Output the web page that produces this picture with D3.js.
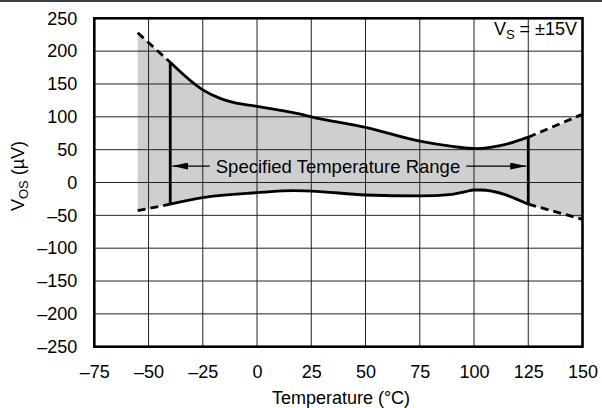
<!DOCTYPE html>
<meta charset="utf-8">
<style>
    body { margin: 0; background: #fff; }
    text { font-family: "Liberation Sans", Arial, sans-serif; fill: #000; }
    .grid line { stroke: #222; stroke-width: 1; }
</style>
<svg width="602" height="408"></svg>
<script src="https://d3js.org/d3.v7.min.js"></script>
<script>

    // upper and lower limit curves (temperature in C, offset in uV)
    var upperTemp = [-55, -40, -25, -17, -11, 0, 20, 25, 50, 75, 90, 101, 112, 125, 150];
    var upperVos  = [228, 183, 141, 128, 122, 116, 104, 100, 84, 63, 55, 51.5, 56, 69, 104];
    var lowerTemp = [-55, -40, -25, 0, 17, 25, 50, 75, 90, 96, 100, 103, 125, 150];
    var lowerVos  = [-43, -33, -23, -15.5, -12.4, -13, -19, -20.5, -18, -14, -11.4, -11.4, -33, -56];

    var specMin = -40, specMax = 125;
    var xTicks = [-75, -50, -25, 0, 25, 50, 75, 100, 125, 150];
    var yTicks = [250, 200, 150, 100, 50, 0, -50, -100, -150, -200, -250];

    (function () {
    var svg = d3.select("svg");
    var pLeft = 94.3, pRight = 582.5, pTop = 18.3, pBottom = 346.7;

    var x = d3.scaleLinear().domain([-75, 150]).range([pLeft, pRight]);
    var y = d3.scaleLinear().domain([-250, 250]).range([pBottom, pTop]);

    var fmt = function (d) { return d < 0 ? "\u2013" + Math.abs(d) : d; };

    var upper = upperTemp.map(function (t, i) { return [t, upperVos[i]]; });
    var lower = lowerTemp.map(function (t, i) { return [t, lowerVos[i]]; });

    var line = d3.line()
        .x(function (d) { return x(d[0]); })
        .y(function (d) { return y(d[1]); })
        .curve(d3.curveMonotoneX);

    // top border of the page
    svg.append("line").attr("x1", 0).attr("x2", 602).attr("y1", 1).attr("y2", 1)
        .attr("stroke", "#000").attr("stroke-width", 1.5);

    // shaded band: upper curve then lower curve back
    var upPath = line(upper), loPath = line(lower.slice().reverse());
    svg.append("path")
        .attr("d", upPath + "L" + loPath.slice(1) + "Z")
        .attr("fill", "#cfcfcf");

    // grid
    var grid = svg.append("g").attr("class", "grid");
    grid.selectAll(".vx").data(xTicks).enter().append("line")
        .attr("x1", function (d) { return x(d); }).attr("x2", function (d) { return x(d); })
        .attr("y1", pTop).attr("y2", pBottom);
    grid.selectAll(".hy").data(yTicks).enter().append("line")
        .attr("y1", function (d) { return y(d); }).attr("y2", function (d) { return y(d); })
        .attr("x1", pLeft).attr("x2", pRight);

    // curves: solid inside spec range, dashed outside
    function part(pts, a, b) {
        return pts.filter(function (d) { return d[0] >= a && d[0] <= b; });
    }
    [upper, lower].forEach(function (pts) {
        svg.append("path").attr("d", line(part(pts, -55, specMin)))
            .attr("fill", "none").attr("stroke", "#000").attr("stroke-width", 2.8)
            .attr("stroke-dasharray", "8,5");
        svg.append("path").attr("d", line(part(pts, specMax, 150)))
            .attr("fill", "none").attr("stroke", "#000").attr("stroke-width", 2.8)
            .attr("stroke-dasharray", "8,5");
        svg.append("path").attr("d", line(part(pts, specMin, specMax)))
            .attr("fill", "none").attr("stroke", "#000").attr("stroke-width", 2.8);
    });

    // vertical limits of the specified range
    [specMin, specMax].forEach(function (t) {
        var u = upper.find(function (d) { return d[0] === t; })[1];
        var l = lower.find(function (d) { return d[0] === t; })[1];
        svg.append("line").attr("x1", x(t)).attr("x2", x(t)).attr("y1", y(u)).attr("y2", y(l))
            .attr("stroke", "#000").attr("stroke-width", 2.8);
    });

    // arrow with label
    var defs = svg.append("defs");
    defs.append("marker").attr("id", "ah").attr("viewBox", "0 0 16 7")
        .attr("refX", 16).attr("refY", 3.5).attr("markerWidth", 16).attr("markerHeight", 7)
        .attr("markerUnits", "userSpaceOnUse").attr("orient", "auto")
        .append("path").attr("d", "M0,0L16,3.5L0,7Z").attr("fill", "#000");
    var arrowY = y(25), lblX = x(37.3);
    var label = svg.append("text").attr("x", lblX).attr("y", arrowY + 6.5)
        .attr("text-anchor", "middle").attr("font-size", 18.5)
        .text("Specified Temperature Range");
    var bw = label.node().getComputedTextLength();
    svg.append("line").attr("x1", lblX - bw / 2 - 6).attr("x2", x(specMin) + 2)
        .attr("y1", arrowY).attr("y2", arrowY).attr("stroke", "#000").attr("stroke-width", 1.3)
        .attr("marker-end", "url(#ah)");
    svg.append("line").attr("x1", lblX + bw / 2 + 6).attr("x2", x(specMax) - 2)
        .attr("y1", arrowY).attr("y2", arrowY).attr("stroke", "#000").attr("stroke-width", 1.3)
        .attr("marker-end", "url(#ah)");

    // frame
    svg.append("rect").attr("x", pLeft).attr("y", pTop).attr("width", pRight - pLeft).attr("height", pBottom - pTop)
        .attr("fill", "none").attr("stroke", "#000").attr("stroke-width", 2.6);

    // axes labels
    svg.append("g").attr("transform", "translate(0," + pBottom + ")")
        .call(d3.axisBottom(x).tickValues(xTicks).tickSize(0).tickPadding(18.5).tickFormat(fmt))
        .call(function (g) { g.select(".domain").remove(); })
        .selectAll("text").attr("font-size", 18).attr("font-family", "Liberation Sans, Arial, sans-serif");
    svg.append("g").attr("transform", "translate(" + pLeft + ",0)")
        .call(d3.axisLeft(y).tickValues(yTicks).tickSize(0).tickPadding(17).tickFormat(fmt))
        .call(function (g) { g.select(".domain").remove(); })
        .selectAll("text").attr("font-size", 18).attr("font-family", "Liberation Sans, Arial, sans-serif");

    svg.append("text").attr("x", 341).attr("y", 404)
        .attr("text-anchor", "middle").attr("font-size", 18)
        .text("Temperature (\u00b0C)");

    var yl = svg.append("text").attr("transform", "translate(24,176) rotate(-90)")
        .attr("text-anchor", "middle").attr("font-size", 18);
    yl.append("tspan").text("V");
    yl.append("tspan").attr("font-size", 13).attr("dy", 4).text("OS");
    yl.append("tspan").attr("dy", -4).text(" (\u00b5V)");

    // supply annotation
    var vs = svg.append("text").attr("x", 577).attr("y", 35).attr("text-anchor", "end").attr("font-size", 18);
    vs.append("tspan").text("V");
    vs.append("tspan").attr("font-size", 13).attr("dy", 4).text("S");
    vs.append("tspan").attr("dy", -4).text(" = \u00b115V");
    })();

</script>
